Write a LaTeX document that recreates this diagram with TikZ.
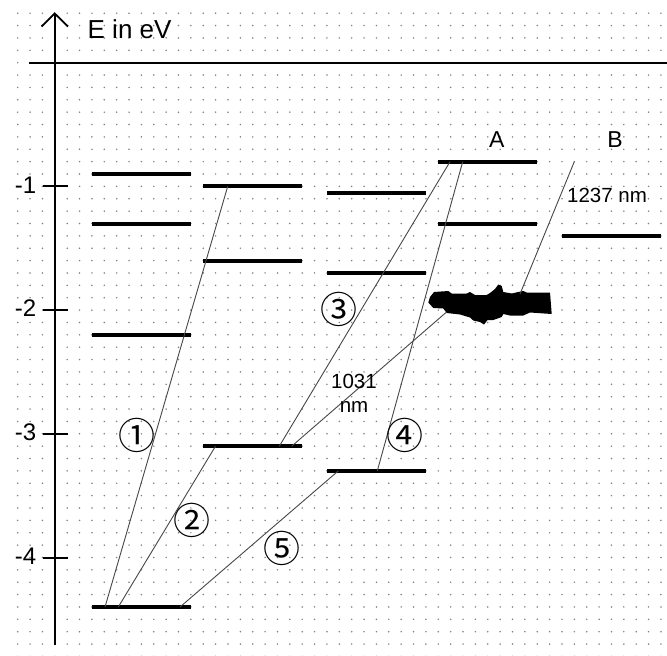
\documentclass[tikz,border=0pt]{standalone}
\usepackage{fontspec}
\setmainfont{Liberation Sans}
\newfontfamily\circfont{Noto Sans CJK SC}
\begin{document}
\begin{tikzpicture}[x=1pt,y=-1pt,
  level/.style={line width=4pt},
  trans/.style={line width=0.9pt, black!72},
  axisline/.style={line width=2pt, black},
  dotgrid/.style={fill=black!50},
  lbl/.style={font=\fontsize{23}{25}\selectfont, inner sep=0pt},
  ticklbl/.style={font=\fontsize{24}{26}\selectfont, inner sep=0pt, anchor=east},
  nmlbl/.style={font=\fontsize{20.5}{24}\selectfont, inner sep=0pt, align=center},
  circ/.style={font=\circfont\fontsize{37}{39}\selectfont, inner sep=0pt},
]
\useasboundingbox (0,0) rectangle (667,656);
\fill[white] (0,0) rectangle (667,656);
% dotted grid
\foreach \i in {0,...,52}{
  \foreach \j in {0,...,52}{
    \fill[dotgrid] ({17.7+12.37*\i},{13.2+12.37*\j}) circle[radius=0.85pt];
  }
}
% axes
\coordinate (hl) at (29.3,62.7);
\coordinate (hr) at (667,62.7);
\coordinate (vb) at (54.7,645);
\coordinate (vt) at (54.7,13.5);
\draw[axisline] (hl) -- (hr);
\draw[axisline] (vb) -- (vt);
\coordinate (al) at (41.5,26.5);
\coordinate (ar) at (68,26.5);
\draw[axisline, line width=1.8pt, line join=miter] (al) -- (vt) -- (ar);
\node[font=\fontsize{26}{28}\selectfont, inner sep=0pt, anchor=west] (elabel) at (87.5,28.8) {E in eV};
% ticks
\foreach \e/\y in {1/186.4,2/310.1,3/433.8,4/557.5}{
  \draw[axisline] (42.7,\y) -- (68.3,\y);
  \node[ticklbl] (t\e) at (36.5,{\y-1.5}) {-\e};
}
% levels
\foreach \xa/\xb/\y/\n in {
  91.9/190.9/174.0/a1, 91.9/190.9/223.5/a2, 91.9/190.9/334.8/a3, 91.9/190.9/607.0/a4,
  203.3/302.2/186.4/b1, 203.3/302.2/260.6/b2, 203.3/302.2/446.2/b3,
  327.0/425.9/192.6/c1, 327.0/425.9/273.0/c2, 327.0/425.9/470.9/c3,
  438.3/537.2/161.7/d1, 438.3/537.2/223.5/d2,
  562.0/660.9/235.9/e1}{
  \draw[level] (\xa,\y) -- (\xb,\y);
}
% broadened level (blob)
\fill[black] (430,297) -- (434,292) -- (448.3,291) -- (451.7,293.5) -- (466.7,293.5) -- (470,292)
  -- (475,295) -- (486.7,295) -- (490,293) -- (495,289) -- (498.3,284.5) -- (501.7,286)
  -- (503.3,292) -- (511.7,293.5) -- (518.3,292) -- (523.3,291) -- (526.7,292.5)
  -- (550,292.5) -- (551.7,314) -- (530,312.5) -- (523.3,315.5) -- (510,315.5) -- (503.3,314)
  -- (501.7,317) -- (493.3,320) -- (487.5,320) -- (484,324.5) -- (480,322) -- (473.3,320.5)
  -- (470,317.5) -- (460,314.5) -- (446.7,313) -- (443.3,308.5) -- (433.3,308) -- (428.3,302.5) -- cycle;
% transition end points
\coordinate (p1t) at (227.7,186.4);
\coordinate (p1b) at (105,607);
\coordinate (p2b) at (118.3,607);
\coordinate (p2t) at (215.5,446.2);
\coordinate (p3b) at (279.3,446.2);
\coordinate (p3t) at (450,161.7);
\coordinate (q1b) at (291.7,446.2);
\coordinate (q1t) at (446,312.5);
\coordinate (p4t) at (462.7,161.7);
\coordinate (p4b) at (377.3,470.9);
\coordinate (p5b) at (180,607);
\coordinate (p5t) at (338.3,470.9);
\coordinate (qbt) at (574.3,161.7);
\coordinate (qbb) at (520,294);
\draw[trans] (p1b) -- (p1t);
\draw[trans] (p2b) -- (p2t);
\draw[trans] (p3b) -- (p3t);
\draw[trans] (q1b) -- (q1t);
\draw[trans] (p4b) -- (p4t);
\draw[trans] (p5b) -- (p5t);
\draw[trans] (qbb) -- (qbt);
% labels
\node[circ] (c1) at (136.7,435) {①};
\node[circ] (c2) at (192.3,520.7) {②};
\node[circ] (c3) at (339.3,309.3) {③};
\node[circ] (c4) at (405,435) {④};
\node[circ] (c5) at (281.7,548.3) {⑤};
\node[lbl] (A) at (496.7,140) {A};
\node[lbl] (B) at (615,140) {B};
\node[nmlbl] (n1237) at (607,195) {1237 nm};
\node[nmlbl] (n1031) at (354,393.7) {1031\\nm};
\end{tikzpicture}
\end{document}
